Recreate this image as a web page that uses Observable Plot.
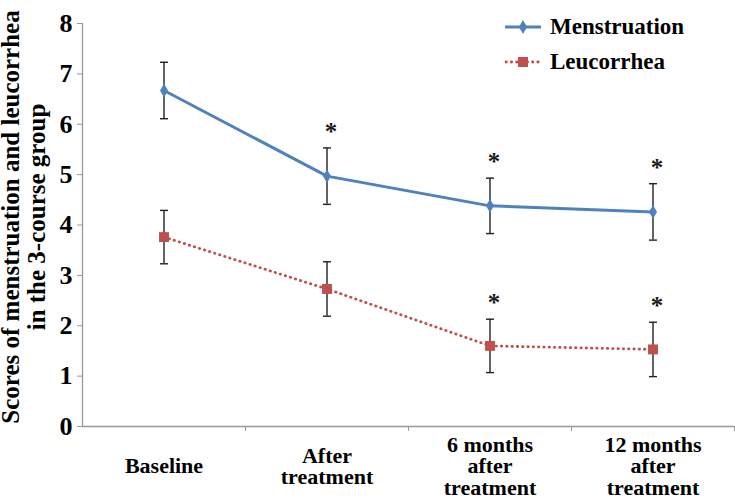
<!DOCTYPE html>
<html>
<head>
<meta charset="utf-8">
<script src="https://cdn.jsdelivr.net/npm/d3@7"></script>
<script src="https://cdn.jsdelivr.net/npm/@observablehq/plot@0.6"></script>
<style>
  body { margin: 0; background: #fff; }
  #wrap { position: relative; width: 735px; height: 498px; font-family: "Liberation Serif", "Times New Roman", serif; }
  #legend { position: absolute; left: 503px; top: 9px; font-weight: bold; font-size: 23px; color: #000; }
  #legend .row { display: flex; align-items: center; height: 35px; }
  #legend svg { margin-right: 7px; }
</style>
</head>
<body>
<div id="wrap">
  <div id="chart"></div>
  <div id="legend"></div>
</div>
<script>
// ---- data ----
const categories = ["Baseline", "After\ntreatment", "6 months\nafter\ntreatment", "12 months\nafter\ntreatment"];
const seriesNames = ["Menstruation", "Leucorrhea"];
const menstruation = [6.67, 4.97, 4.38, 4.26];
const menstruationErr = [0.56, 0.56, 0.55, 0.56];
const menstruationSig = [false, true, true, true];
const leucorrhea = [3.76, 2.73, 1.60, 1.53];
const leucorrheaErr = [0.53, 0.54, 0.53, 0.54];
const leucorrheaSig = [false, false, true, true];
const yTicks = [0, 1, 2, 3, 4, 5, 6, 7, 8];
const yLabel = "Scores of menstruation and leucorrhea\nin the 3-course group";

const blue = "#4f81bd", red = "#c0504d";
const FONT = "'Liberation Serif', 'Times New Roman', serif";

const rows = [];
categories.forEach((c, i) => {
  rows.push({i, series: seriesNames[0], v: menstruation[i], e: menstruationErr[i], sig: menstruationSig[i]});
  rows.push({i, series: seriesNames[1], v: leucorrhea[i], e: leucorrheaErr[i], sig: leucorrheaSig[i]});
});
const mRows = rows.filter(d => d.series === seriesNames[0]);
const lRows = rows.filter(d => d.series === seriesNames[1]);
const catRows = categories.map((c, i) => ({i, c}));
const boundaries = categories.map((c, i) => i + 0.5);

// horizontal cap symbol for error bars
const capSymbol = {
  draw(ctx, size) {
    const r = Math.sqrt(size / Math.PI);
    ctx.moveTo(-r, 0);
    ctx.lineTo(r, 0);
  }
};

const chart = Plot.plot({
  width: 735,
  height: 498,
  marginLeft: 82,
  marginRight: 1,
  marginTop: 23,
  marginBottom: 72,
  style: {fontFamily: FONT, background: "white", overflow: "visible"},
  x: {domain: [-0.5, categories.length - 0.5], axis: null},
  y: {domain: [0, 8], axis: null},
  marks: [
    Plot.axisY({ticks: yTicks, tickSize: 5, tickPadding: 5, stroke: "#999", fill: "black",
      fontSize: 26, fontWeight: "bold", label: null, tickFormat: d => String(d)}),
    Plot.axisX({ticks: boundaries, tickSize: 5, stroke: "#999", tickFormat: () => "", label: null}),
    Plot.ruleY([0], {stroke: "#999", strokeWidth: 1.3}),
    Plot.ruleX([-0.5], {stroke: "#999", strokeWidth: 1.3}),
    // y axis title
    Plot.text([yLabel], {frameAnchor: "left", textAnchor: "middle", rotate: -90, dx: -59, dy: -8, fontSize: 25,
      fontWeight: "bold", lineHeight: 1.07, fill: "black", lineAnchor: "middle"}),
    // x category labels
    Plot.text(catRows, {x: "i", y: () => 0, text: "c", dy: 40, fontSize: 22, fontWeight: "bold",
      lineHeight: 0.98, lineAnchor: "middle", fill: "black"}),
    // error bars
    Plot.ruleX(rows, {x: "i", y1: d => d.v - d.e, y2: d => d.v + d.e, stroke: "#222", strokeWidth: 1.4}),
    Plot.dot(rows, {x: "i", y: d => d.v - d.e, symbol: capSymbol, r: 4, stroke: "#222", strokeWidth: 1.4, fill: "none"}),
    Plot.dot(rows, {x: "i", y: d => d.v + d.e, symbol: capSymbol, r: 4, stroke: "#222", strokeWidth: 1.4, fill: "none"}),
    // lines
    Plot.line(mRows, {x: "i", y: "v", stroke: blue, strokeWidth: 3}),
    Plot.line(lRows, {x: "i", y: "v", stroke: red, strokeWidth: 2.8, strokeDasharray: "0.4,4.9", strokeLinecap: "round"}),
    Plot.dot(mRows, {x: "i", y: "v", symbol: "diamond", r: 4.2, fill: blue}),
    Plot.dot(lRows, {x: "i", y: "v", symbol: "square", r: 5.6, fill: red}),
    // significance stars
    Plot.text(rows.filter(d => d.sig), {x: "i", y: d => d.v + d.e, text: () => "*", dy: -16, dx: 4,
      fontSize: 25, fontWeight: "bold", fill: "#1a1a1a", lineAnchor: "middle"})
  ]
});
document.getElementById("chart").appendChild(chart);

// legend
const legend = document.getElementById("legend");
const swatches = [
  `<svg width="40" height="14"><line x1="2" y1="7" x2="38" y2="7" stroke="${blue}" stroke-width="3"/><path d="${d3.symbol(d3.symbolDiamond, Math.PI * 4.2 * 4.2)()}" transform="translate(20,7)" fill="${blue}"/></svg>`,
  `<svg width="40" height="14"><line x1="3" y1="7" x2="38" y2="7" stroke="${red}" stroke-width="2.8" stroke-linecap="round" stroke-dasharray="0.4,4.9"/><rect x="15" y="2" width="10" height="10" fill="${red}"/></svg>`
];
seriesNames.forEach((name, k) => {
  const row = document.createElement("div");
  row.className = "row";
  row.innerHTML = swatches[k] + `<span>${name}</span>`;
  legend.appendChild(row);
});
</script>
</body>
</html>
